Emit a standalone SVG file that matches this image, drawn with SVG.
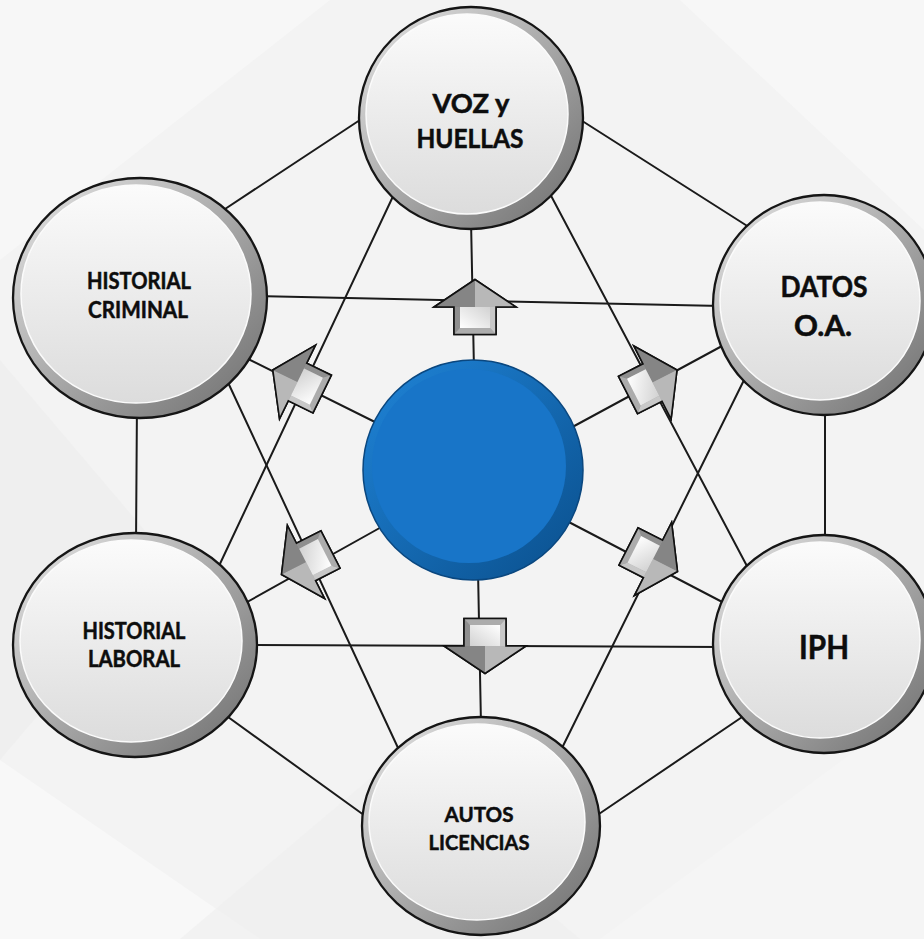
<svg xmlns="http://www.w3.org/2000/svg" xmlns:xlink="http://www.w3.org/1999/xlink" width="924" height="939" viewBox="0 0 924 939">
<defs>
<style>
.ln{stroke:#1a1a1a;stroke-width:2;fill:none;stroke-linecap:round}
.ring{fill:url(#ringG);stroke:#151515;stroke-width:2.3}
.face{fill:url(#faceG);stroke:#fbfbfb;stroke-width:1.5}
.t{font-family:Lato,"Liberation Sans",sans-serif;font-weight:700;fill:#0d0d0d;text-anchor:middle;stroke:#0d0d0d;stroke-width:0.5}
.aout{fill:#9c9c9c;stroke:#111;stroke-width:1.6;stroke-linejoin:miter}
.aline{fill:none;stroke:#111;stroke-width:1.6;stroke-linejoin:miter}
</style>
<linearGradient id="ringG" x1="0" y1="0" x2="1" y2="1">
<stop offset="0" stop-color="#e6e6e6"/><stop offset="0.5" stop-color="#a9a9a9"/><stop offset="1" stop-color="#6c6c6c"/>
</linearGradient>
<linearGradient id="faceG" x1="0" y1="0" x2="0" y2="1">
<stop offset="0" stop-color="#fbfbfb"/><stop offset="1" stop-color="#dcdcdc"/>
</linearGradient>
<linearGradient id="blueRing" x1="0" y1="0" x2="1" y2="1">
<stop offset="0" stop-color="#1f84d8"/><stop offset="1" stop-color="#0a4f8c"/>
</linearGradient>
<linearGradient id="arrFace" x1="0" y1="0" x2="1" y2="1">
<stop offset="0" stop-color="#ffffff"/><stop offset="1" stop-color="#d2d2d2"/>
</linearGradient>
<g id="arrA">
<path class="aout" d="M27.5,0 L0,-41 L0,-21 L-27.5,-21 L-27.5,21 L0,21 L0,41 Z"/>
<path d="M27.5,0 L0,-41 L0,0 Z" fill="#858585"/>
<path d="M27.5,0 L0,41 L0,0 Z" fill="#b8b8b8"/>
<path d="M0,-21 L-27.5,-21 L-21,-15 L0,-15 Z" fill="#8f8f8f"/>
<path d="M0,21 L-27.5,21 L-21,15 L0,15 Z" fill="#c8c8c8"/>
<path d="M-27.5,-21 L-27.5,21 L-21,15 L-21,-15 Z" fill="#acacac"/>
<rect x="-21" y="-15" width="21" height="30" fill="url(#arrFace)"/>
<path class="aline" d="M27.5,0 L0,-41 L0,-21 L-27.5,-21 L-27.5,21 L0,21 L0,41 Z"/>
</g>
<g id="arrB">
<path class="aout" d="M27.5,0 L0,-41 L0,-21 L-27.5,-21 L-27.5,21 L0,21 L0,41 Z"/>
<path d="M27.5,0 L0,-41 L0,0 Z" fill="#b8b8b8"/>
<path d="M27.5,0 L0,41 L0,0 Z" fill="#858585"/>
<path d="M0,-21 L-27.5,-21 L-21,-15 L0,-15 Z" fill="#c8c8c8"/>
<path d="M0,21 L-27.5,21 L-21,15 L0,15 Z" fill="#8f8f8f"/>
<path d="M-27.5,-21 L-27.5,21 L-21,15 L-21,-15 Z" fill="#acacac"/>
<rect x="-21" y="-15" width="21" height="30" fill="url(#arrFace)"/>
<path class="aline" d="M27.5,0 L0,-41 L0,-21 L-27.5,-21 L-27.5,21 L0,21 L0,41 Z"/>
</g>
</defs>

<g id="background">
<rect x="0" y="0" width="924" height="939" fill="#f3f3f3"/>
<polygon points="0,0 330,0 0,260" fill="#f7f7f7"/>
<polygon points="0,360 170,560 0,760" fill="#ececec" opacity="0.6"/>
<polygon points="0,760 260,939 0,939" fill="#f8f8f8"/>
<polygon points="180,939 380,770 580,939" fill="#eeeeee" opacity="0.6"/>
<polygon points="680,0 924,0 924,230" fill="#f7f7f7"/>
<polygon points="600,939 924,700 924,939" fill="#f5f5f5"/>
</g>

<g id="connectors">
<line class="ln" x1="222" y1="211" x2="366" y2="116"/>
<line class="ln" x1="576" y1="117" x2="752" y2="229"/>
<line class="ln" x1="137" y1="400" x2="136" y2="545"/>
<line class="ln" x1="825" y1="400" x2="825" y2="545"/>
<line class="ln" x1="217" y1="709" x2="368" y2="818"/>
<line class="ln" x1="751" y1="711" x2="593" y2="818"/>
<line class="ln" x1="255" y1="296" x2="722" y2="306"/>
<line class="ln" x1="245" y1="645" x2="722" y2="647"/>
<line class="ln" x1="396" y1="190" x2="218" y2="568"/>
<line class="ln" x1="548" y1="190" x2="748" y2="568"/>
<line class="ln" x1="225" y1="376" x2="399" y2="750"/>
<line class="ln" x1="748" y1="372" x2="561" y2="750"/>
<line class="ln" x1="471" y1="220" x2="474" y2="370"/>
<line class="ln" x1="478" y1="570" x2="481" y2="725"/>
<line class="ln" x1="240" y1="355" x2="385" y2="427"/>
<line class="ln" x1="565" y1="431" x2="722" y2="346"/>
<line class="ln" x1="385" y1="525" x2="240" y2="606"/>
<line class="ln" x1="563" y1="519" x2="728" y2="605"/>
<use xlink:href="#arrA" transform="translate(475,307) rotate(-90)"/>
<use xlink:href="#arrB" transform="translate(485,646) rotate(90)"/>
<use xlink:href="#arrB" transform="translate(297.5,382) rotate(-154)"/>
<use xlink:href="#arrA" transform="translate(652.5,382.5) rotate(-27)"/>
<use xlink:href="#arrB" transform="translate(306,562) rotate(153)"/>
<use xlink:href="#arrA" transform="translate(653,559) rotate(27)"/>
</g>

<g id="node-center">
<circle cx="473" cy="470" r="110" fill="url(#blueRing)" stroke="#0a477f" stroke-width="1.5"/>
<circle cx="469" cy="466" r="97" fill="#1875c8"/>
</g>

<g id="node-voz">
<ellipse class="ring" cx="471" cy="118" rx="112" ry="111"/>
<ellipse class="face" cx="467" cy="114" rx="101" ry="100"/>
<text class="t" x="471" y="113" font-size="27" textLength="77" lengthAdjust="spacingAndGlyphs">VOZ y</text>
<text class="t" x="470" y="148" font-size="27" textLength="107" lengthAdjust="spacingAndGlyphs">HUELLAS</text>
</g>

<g id="node-historial-criminal">
<ellipse class="ring" cx="140" cy="298" rx="127" ry="120"/>
<ellipse class="face" cx="136" cy="294" rx="115" ry="109"/>
<text class="t" x="139" y="289" font-size="22" textLength="104" lengthAdjust="spacingAndGlyphs">HISTORIAL</text>
<text class="t" x="138" y="318" font-size="22" textLength="100" lengthAdjust="spacingAndGlyphs">CRIMINAL</text>
</g>

<g id="node-datos">
<ellipse class="ring" cx="824" cy="305" rx="111" ry="110"/>
<ellipse class="face" cx="820" cy="301" rx="100" ry="99"/>
<text class="t" x="824" y="297" font-size="28" textLength="87" lengthAdjust="spacingAndGlyphs">DATOS</text>
<text class="t" x="823" y="336" font-size="28" textLength="58" lengthAdjust="spacingAndGlyphs">O.A.</text>
</g>

<g id="node-iph">
<ellipse class="ring" cx="824" cy="644" rx="111" ry="109"/>
<ellipse class="face" cx="820" cy="640" rx="100" ry="98"/>
<text class="t" x="824" y="659" font-size="32" textLength="50" lengthAdjust="spacingAndGlyphs">IPH</text>
</g>

<g id="node-historial-laboral">
<ellipse class="ring" cx="135" cy="645" rx="122" ry="112"/>
<ellipse class="face" cx="131" cy="641" rx="111" ry="101"/>
<text class="t" x="134" y="639" font-size="22" textLength="103" lengthAdjust="spacingAndGlyphs">HISTORIAL</text>
<text class="t" x="134" y="667" font-size="22" textLength="92" lengthAdjust="spacingAndGlyphs">LABORAL</text>
</g>

<g id="node-autos">
<ellipse class="ring" cx="481" cy="826" rx="119" ry="109"/>
<ellipse class="face" cx="477" cy="822" rx="108" ry="98"/>
<text class="t" x="479" y="822" font-size="21.5" textLength="69" lengthAdjust="spacingAndGlyphs">AUTOS</text>
<text class="t" x="479" y="850" font-size="21.5" textLength="101" lengthAdjust="spacingAndGlyphs">LICENCIAS</text>
</g>
</svg>
